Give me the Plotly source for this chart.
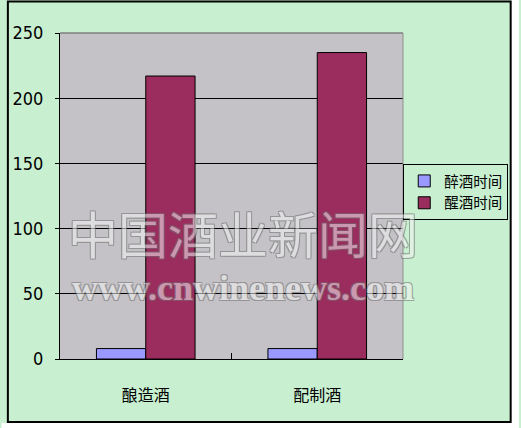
import plotly.graph_objects as go

categories = ["酿造酒", "配制酒"]
drunk_time = [8, 8]          # 醉酒时间
sober_time = [217, 235]      # 醒酒时间
series_names = ["醉酒时间", "醒酒时间"]
y_ticks = [0, 50, 100, 150, 200, 250]

W, H = 521, 428
L, R, T, B = 55, 114, 33, 69
pw, ph = W - L - R, H - T - B


def px_x(p):
    return (p - L) / pw


def px_y(p):
    return (H - B - p) / ph


green = "#C8F0D0"
cjk = "Noto Sans CJK SC"
outline = "1px 1px 0 #707070, -1px -1px 0 #707070, 1px -1px 0 #707070, -1px 1px 0 #707070"

fig = go.Figure()
fig.add_trace(go.Bar(x=categories, y=drunk_time, name=series_names[0], legendgroup="a",
                     marker=dict(color="#9999FF", line=dict(color="black", width=1))))
fig.add_trace(go.Bar(x=categories, y=sober_time, name=series_names[1], legendgroup="b",
                     marker=dict(color="#9B2D5E", line=dict(color="black", width=1))))

fig.update_layout(
    width=W, height=H,
    margin=dict(l=L, r=R, t=T, b=B, pad=0),
    paper_bgcolor=green,
    plot_bgcolor="#C4C2C6",
    barmode="group", bargap=0.425, bargroupgap=0,
    showlegend=True,
    legend=dict(x=px_x(515), y=px_y(164), xanchor="right", yanchor="top",
                bgcolor=green, bordercolor="black", borderwidth=1,
                font=dict(family=cjk, size=14.5, color="black"),
                itemwidth=30, tracegroupgap=9, traceorder="normal"),
    xaxis=dict(showline=True, linecolor="black", linewidth=1,
               ticks="inside", ticklen=6, tickcolor="black", tickson="boundaries",
               tickfont=dict(family=cjk, size=16, color="black"),
               ticklabelstandoff=22, showgrid=False, zeroline=False),
    yaxis=dict(range=[0, 250], tickvals=y_ticks, showline=True, linecolor="black", linewidth=1,
               ticks="outside", ticklen=4, tickcolor="black",
               tickfont=dict(family="Liberation Sans Narrow, DejaVu Sans Condensed, Liberation Sans",
                             size=18, color="black"),
               ticklabelstandoff=8,
               showgrid=True, gridcolor="black", gridwidth=1, zeroline=False),
    shapes=[
        # white strips outside the chart frame
        dict(type="rect", xref="paper", yref="paper",
             x0=px_x(518), x1=px_x(W + 5), y0=px_y(H + 5), y1=px_y(-5),
             line=dict(width=0), fillcolor="white", layer="below"),
        dict(type="rect", xref="paper", yref="paper",
             x0=px_x(-5), x1=px_x(W + 5), y0=px_y(H + 5), y1=px_y(423),
             line=dict(width=0), fillcolor="white", layer="below"),
        dict(type="rect", xref="paper", yref="paper",
             x0=px_x(1.5), x1=px_x(517.5), y0=px_y(422), y1=px_y(1.5),
             line=dict(color="black", width=2), layer="below"),
        dict(type="line", xref="paper", yref="paper", x0=0, x1=1, y0=1, y1=1,
             line=dict(color="#7F7F7F", width=1.5), layer="above"),
        dict(type="line", xref="paper", yref="paper", x0=1, x1=1, y0=0, y1=1,
             line=dict(color="#8F8F8F", width=1), layer="above"),
    ],
    annotations=[
        dict(text="中国酒业新闻网", xref="paper", yref="paper",
             x=px_x(243), y=px_y(270), showarrow=False, opacity=0.55,
             font=dict(family=cjk, size=50, color="#F2F2F2", shadow=outline)),
        dict(text="www.cnwinenews.com", xref="paper", yref="paper",
             x=px_x(243), y=px_y(310), showarrow=False, opacity=0.55,
             font=dict(family="Liberation Serif", size=36, weight="bold",
                       color="#F2F2F2", shadow=outline)),
    ],
)

fig.write_html("out.html", config={"displayModeBar": False},
               post_script="document.body.style.margin='0';")
